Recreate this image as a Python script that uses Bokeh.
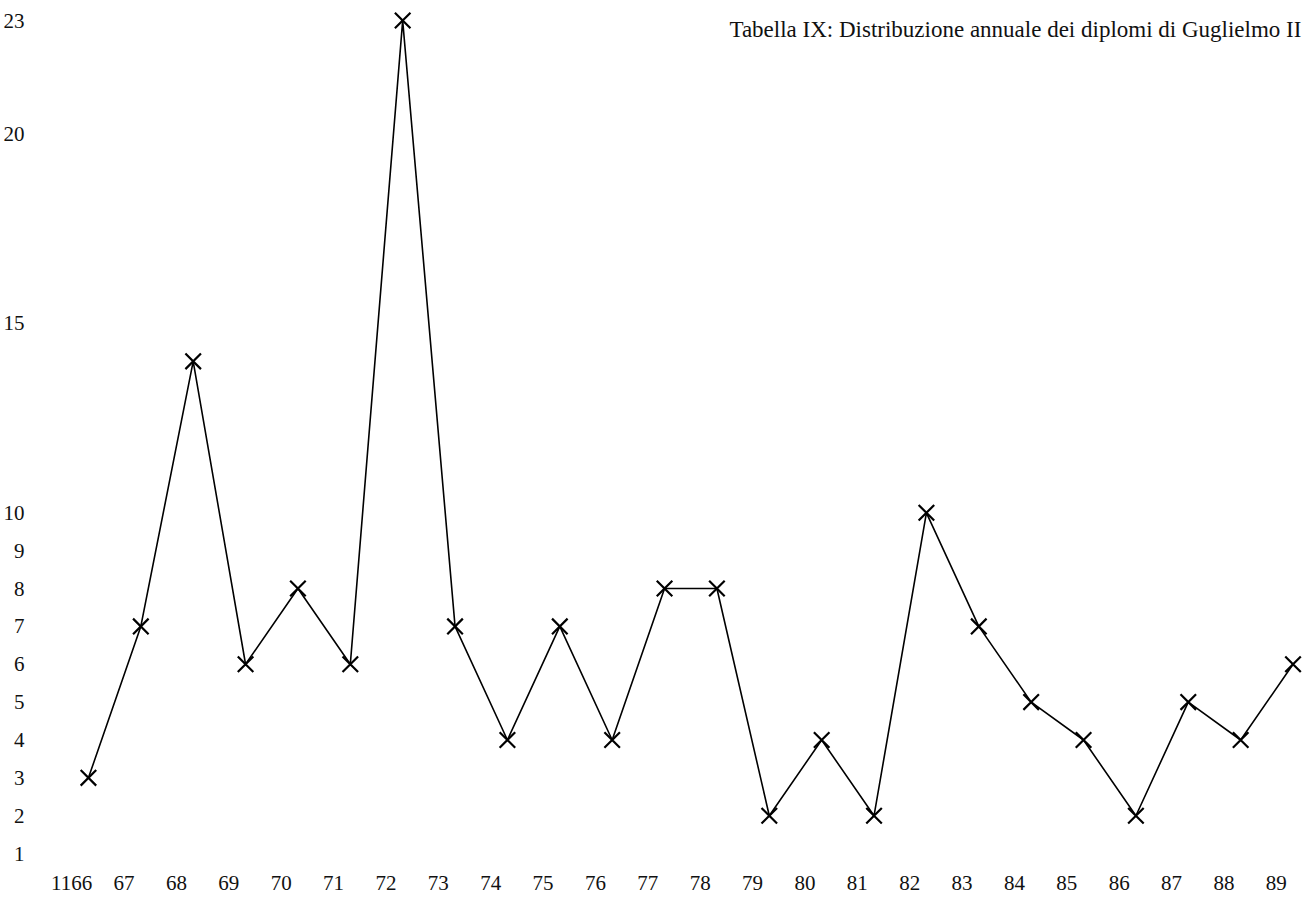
from bokeh.plotting import figure
from bokeh.models import ColumnDataSource, FixedTicker, Range1d, Label
from bokeh.transform import dodge
from bokeh.embed import file_html
from bokeh.resources import INLINE

# ---- data ----
years = [1166, 1167, 1168, 1169, 1170, 1171, 1172, 1173, 1174, 1175, 1176, 1177,
         1178, 1179, 1180, 1181, 1182, 1183, 1184, 1185, 1186, 1187, 1188, 1189]
diplomi = [3, 7, 14, 6, 8, 6, 23, 7, 4, 7, 4, 8,
           8, 2, 4, 2, 10, 7, 5, 4, 2, 5, 4, 6]
x_tick_labels = ["1166", "67", "68", "69", "70", "71", "72", "73", "74", "75", "76", "77",
                 "78", "79", "80", "81", "82", "83", "84", "85", "86", "87", "88", "89"]
y_ticks = [1, 2, 3, 4, 5, 6, 7, 8, 9, 10, 15, 20, 23]
title_text = "Tabella IX: Distribuzione annuale dei diplomi di Guglielmo II"

FONT = "Liberation Serif"

source = ColumnDataSource(data=dict(year=years, n=diplomi))

p = figure(width=1303, height=897, output_backend="svg", toolbar_location=None,
           x_range=Range1d(1165.29, 1189.52), y_range=Range1d(0.87, 23.53))
p.min_border_left = 32
p.min_border_right = 0
p.min_border_top = 0
p.min_border_bottom = 39
p.outline_line_color = None
p.background_fill_color = "white"
p.border_fill_color = "white"
p.grid.visible = False

xs = dodge("year", 0.32, range=p.x_range)
p.line(x=xs, y="n", source=source, line_color="black", line_width=1.6)
p.scatter(x=xs, y="n", source=source, marker="x", size=22,
          line_color="black", line_width=2.2)

# axes
p.xaxis.ticker = FixedTicker(ticks=years)
p.xaxis.major_label_overrides = {y: lab for y, lab in zip(years, x_tick_labels)}
p.yaxis.ticker = FixedTicker(ticks=y_ticks)
for ax in (p.xaxis, p.yaxis):
    ax.axis_line_color = None
    ax.major_tick_line_color = None
    ax.minor_tick_line_color = None
    ax.major_label_text_font = FONT
    ax.major_label_text_font_size = "21px"
    ax.major_label_text_color = "#111111"
p.xaxis.major_label_standoff = 11
p.yaxis.major_label_standoff = 4

p.add_layout(Label(x=1189.48, y=22.76, text=title_text, text_align="right",
                   text_baseline="middle", text_font=FONT, text_font_size="23px",
                   text_color="#111111"))

open("out.html", "w").write(file_html(p, INLINE))
